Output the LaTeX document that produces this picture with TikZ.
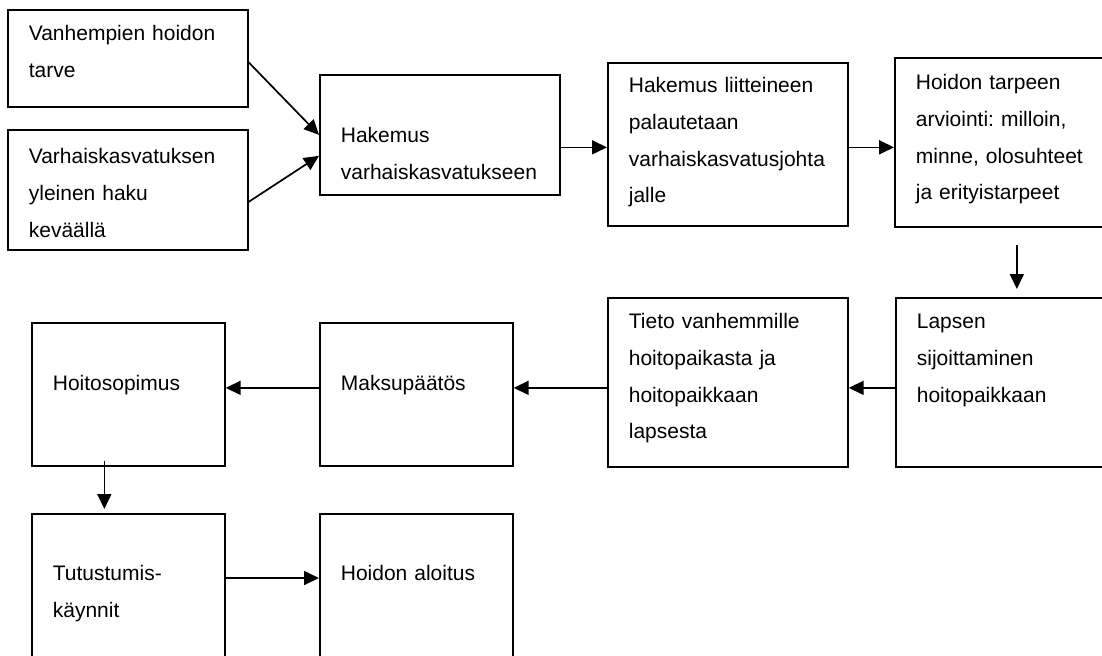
\documentclass[tikz,border=0pt]{standalone}
\usepackage{fontspec}
\setmainfont{Liberation Sans}
\usetikzlibrary{arrows.meta}

\tikzset{
  stepbox/.style={draw, line width=0.85pt, anchor=north west, align=left,
    inner xsep=10.5pt, inner ysep=0pt, text height=15.5pt,
    font=\fontsize{10.5pt}{18.35pt}\selectfont\frenchspacing},
  widebox/.style={stepbox, text width=99pt},
  narrowbox/.style={stepbox, text width=75.5pt},
  flow/.style={-{Triangle[length=7.5pt,width=7pt]}, line width=0.85pt},
}

\begin{document}
\begin{tikzpicture}[x=0.5pt, y=-0.5pt]
\useasboundingbox (0,0) rectangle (1102,655);
\clip (0,0) rectangle (1102,655);

\node[widebox, text depth=33pt] (vanhemmat) at (7,9) {Vanhempien hoidon\\tarve};
\node[widebox, text height=17pt, text depth=43pt] (haku) at (7,129) {Varhaiskasvatuksen\\yleinen haku\\keväällä};
\node[widebox, text height=34pt, text depth=26pt] (hakemus) at (319,74) {Hakemus\\varhaiskasvatukseen};
\node[widebox, text height=15pt, text depth=66.5pt] (palautus) at (607,62) {Hakemus liitteineen\\palautetaan\\varhaiskasvatusjohta\\jalle};
\node[widebox, text height=16pt, text depth=68.5pt] (arviointi) at (894,57) {Hoidon tarpeen\\arviointi: milloin,\\minne, olosuhteet\\ja erityistarpeet};

\node[widebox, text depth=69pt] (sijoitus) at (895,297) {Lapsen\\sijoittaminen\\hoitopaikkaan};
\node[widebox, text depth=69pt] (tieto) at (607,297) {Tieto vanhemmille\\hoitopaikasta ja\\hoitopaikkaan\\lapsesta};
\node[narrowbox, text height=34pt, text depth=37.5pt] (maksu) at (319,322) {Maksupäätös};
\node[narrowbox, text height=34pt, text depth=37.5pt] (hoito) at (31,322) {Hoitosopimus};

\node[narrowbox, text height=33.5pt, text depth=56.5pt] (tutus) at (31,513) {Tutustumis-\\käynnit};
\node[narrowbox, text height=33.5pt, text depth=56.5pt] (aloitus) at (319,513) {Hoidon aloitus};

\draw[flow] ([yshift=-2pt]vanhemmat.east) -- (hakemus.west);
\draw[flow] ([yshift=-6pt]haku.east) -- ([yshift=-10.5pt]hakemus.west);
\coordinate (r1) at ([yshift=-1.5pt]palautus.west);
\draw[flow] (r1 -| hakemus.east) -- (r1);
\draw[flow] (r1 -| palautus.east) -- (r1 -| arviointi.west);
\draw[flow, shorten <=8.5pt, shorten >=4pt] ([xshift=1pt]arviointi.south) -- ([xshift=1pt]arviointi.south |- sijoitus.north);

\coordinate (r2) at ([yshift=-2.75pt]sijoitus.west);
\draw[flow] (r2) -- (r2 -| tieto.east);
\draw[flow] (r2 -| tieto.west) -- (r2 -| maksu.east);
\draw[flow] (r2 -| maksu.west) -- (r2 -| hoito.east);
\draw[flow, shorten <=-3pt, shorten >=2pt] ([xshift=-12pt]hoito.south) -- ([xshift=-12pt]tutus.north);

\coordinate (r3) at ([yshift=-32.5pt]tutus.north east);
\draw[flow] (r3) -- (r3 -| aloitus.west);
\end{tikzpicture}
\end{document}
